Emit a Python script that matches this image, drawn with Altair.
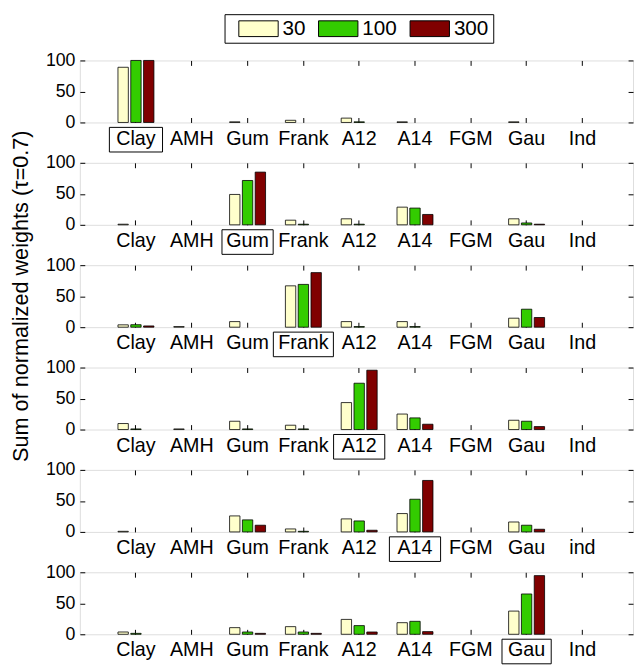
import altair as alt
import pandas as pd

categories = ["Clay", "AMH", "Gum", "Frank", "A12", "A14", "FGM", "Gau", "Ind"]
categories_p5 = ["Clay", "AMH", "Gum", "Frank", "A12", "A14", "FGM", "Gau", "ind"]
series = ["30", "100", "300"]
colors = ["#ffffcc", "#33cc00", "#800000"]
true_copula = ["Clay", "Gum", "Frank", "A12", "A14", "Gau"]
box_widths = [54, 52, 61, 52, 52, 50]
y_title = "Sum of normalized weights (\u03c4=0.7)"

# values for each panel (order of categories), one list per series
p1_30 = [89, 0, 1, 3.5, 7, 1, 0, 1, 0]
p1_100 = [100, 0, 0, 0, 1, 0, 0, 0, 0]
p1_300 = [100, 0, 0, 0, 0, 0, 0, 0, 0]

p2_30 = [1, 0, 49, 7.5, 9.7, 28.5, 0, 9.7, 0]
p2_100 = [0, 0, 71.5, 1, 1, 27, 0, 3, 0]
p2_300 = [0, 0, 85, 0, 0, 16.7, 0, 1, 0]

p3_30 = [3.8, 1, 9, 66.7, 9, 9, 0, 14.5, 0]
p3_100 = [4, 0, 0, 69, 1, 1, 0, 29, 0]
p3_300 = [2, 0, 0, 88, 0, 0, 0, 15.6, 0]

p4_30 = [9.7, 1, 13.4, 7, 43.5, 25, 0, 15, 0]
p4_100 = [1, 0, 1, 1, 74.7, 18.8, 0, 13.4, 0]
p4_300 = [0, 0, 0, 0, 95.7, 8.6, 0, 4.8, 0]

p5_30 = [1, 0, 25.8, 4.8, 21, 29.6, 0, 16, 0]
p5_100 = [0, 0, 19.4, 1, 17.7, 52.7, 0, 10.8, 0]
p5_300 = [0, 0, 10.8, 0, 2.7, 83, 0, 4.3, 0]

p6_30 = [3.7, 0, 10.7, 12.3, 24, 18.7, 0, 37.4, 0]
p6_100 = [1.5, 0, 3.7, 3.7, 14, 20.9, 0, 65, 0]
p6_300 = [0, 0, 1.5, 1.5, 3.7, 4.3, 0, 94.6, 0]

panels_values = [
    (p1_30, p1_100, p1_300),
    (p2_30, p2_100, p2_300),
    (p3_30, p3_100, p3_300),
    (p4_30, p4_100, p4_300),
    (p5_30, p5_100, p5_300),
    (p6_30, p6_100, p6_300),
]
panel_labels = [categories, categories, categories, categories, categories_p5, categories]

W = 562
H = 63
FONT = "Liberation Sans"

charts = []
for i, (vals, labels) in enumerate(zip(panels_values, panel_labels)):
    rows = []
    for s, v in zip(series, vals):
        for c, val in zip(labels, v):
            if val > 0:
                rows.append({"cat": c, "series": s, "val": val})
    df = pd.DataFrame(rows)

    xscale = alt.Scale(domain=labels, paddingInner=0, paddingOuter=0.456, align=0.554)
    yscale = alt.Scale(domain=[0, 100], nice=False)

    bottom_axis = alt.Axis(orient="bottom", offset=-5, tickSize=5, domain=False,
                           labelFontSize=20, labelPadding=6, labelAngle=0, title=None,
                           labelColor="black", tickColor="black", labelFont=FONT,
                           labelOverlap=False, grid=False)
    top_axis = alt.Axis(orient="top", offset=-5, tickSize=5, domain=False, labels=False,
                        title=None, tickColor="black", grid=False)
    left_axis = alt.Axis(orient="left", offset=-5, tickSize=5, domain=False, values=[0, 50, 100],
                         labelFontSize=18, labelPadding=5, labelFlush=False, grid=False,
                         labelColor="black", tickColor="black", labelFont=FONT, title=None)
    right_axis = alt.Axis(orient="right", offset=-5, tickSize=5, domain=False,
                          values=[0, 50, 100], labels=False, title=None, grid=False,
                          tickColor="black")

    if i == 0:
        legend = alt.Legend(title=None, orient="none", legendX=147, legendY=-47,
                            direction="horizontal", symbolType="M0,-2H10V2H0Z",
                            symbolSize=64, symbolStrokeColor="black", symbolStrokeWidth=1,
                            symbolOpacity=1, labelFontSize=21, labelFont=FONT,
                            labelColor="black", labelOffset=34, columnPadding=2,
                            padding=4, strokeColor="black", fillColor="white")
        color = alt.Color("series:N", sort=series,
                          scale=alt.Scale(domain=series, range=colors), legend=legend)
    else:
        color = alt.Color("series:N", sort=series,
                          scale=alt.Scale(domain=series, range=colors), legend=None)

    bars = alt.Chart(df).mark_bar(stroke="black", strokeWidth=0.8, opacity=1).encode(
        x=alt.X("cat:N", sort=labels, scale=xscale, axis=bottom_axis),
        xOffset=alt.XOffset("series:N", sort=series,
                            scale=alt.Scale(domain=series, paddingInner=0.19, paddingOuter=0.775)),
        y=alt.Y("val:Q", scale=yscale, axis=left_axis, stack=None),
        color=color,
    )
    ticks = alt.Chart(df).mark_bar(opacity=0).encode(
        x=alt.X("cat:N", sort=labels, axis=top_axis),
        y=alt.Y("val:Q", axis=right_axis, stack=None),
    )
    box_df = pd.DataFrame({"cat": [labels[categories.index(true_copula[i])]]})
    box = alt.Chart(box_df).mark_bar(width=box_widths[i], fill="white", fillOpacity=0,
                                     stroke="black", strokeWidth=1, clip=False).encode(
        x=alt.X("cat:N", sort=labels, axis=None),
        y=alt.value(H + 5),
        y2=alt.value(H + 30),
    )
    layers = [bars, ticks, box]
    if i == 2:
        title_df = pd.DataFrame({"t": [y_title]})
        title = alt.Chart(title_df).mark_text(angle=270, fontSize=22, font=FONT,
                                              color="black", align="center",
                                              baseline="middle").encode(
            text="t:N", x=alt.value(-60), y=alt.value(H / 2))
        layers.append(title)
    panel = alt.layer(*layers).resolve_axis(x="independent", y="independent").properties(
        width=W, height=H)
    charts.append(panel)

chart = alt.vconcat(*charts, spacing=41, bounds="flush").resolve_legend(
    color="independent"
).configure_view(stroke="black", strokeWidth=1).configure(font=FONT).properties(
    padding={"left": 1, "top": 0, "right": 0, "bottom": 0}, background="white")

chart.save("out.html", embed_options={"renderer": "svg", "actions": False})
